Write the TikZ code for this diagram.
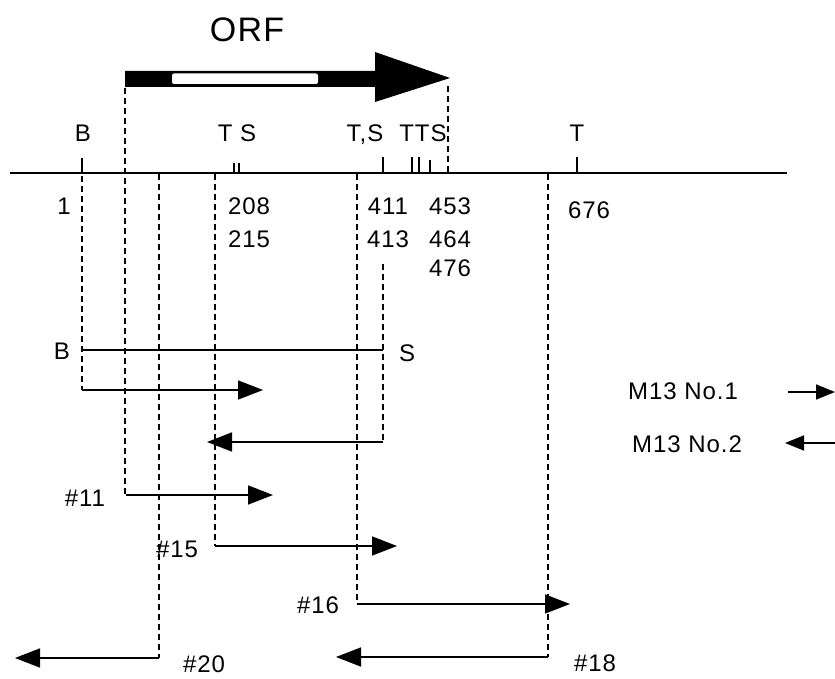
\documentclass[tikz,border=0pt]{standalone}
\usepackage{fontspec}
\setmainfont{Liberation Sans}[LetterSpace=4]
\usetikzlibrary{arrows.meta}
\begin{document}
\begin{tikzpicture}[x=1pt,y=-1pt,
  lbl/.style={inner sep=0pt, font=\fontsize{24}{26}\selectfont, text height=17pt, text depth=0pt},
  guide/.style={line width=1.5pt, dash pattern=on 6pt off 4pt},
  frag/.style={line width=1.6pt, -{Triangle[length=25pt,width=19pt]}},
  legendarrow/.style={line width=1.6pt, -{Triangle[length=19pt,width=15pt]}},
  tickmark/.style={line width=1.4pt}]
\useasboundingbox (0,0) rectangle (835,679);

% ORF arrow
\node[inner sep=0pt, font=\fontsize{34}{36}\selectfont, text height=24pt, text depth=0pt] (orf) at (247,30) {ORF};
\fill[black] (125,71) -- (375,71) -- (375,52) -- (450,78) -- (375,102) -- (375,87) -- (125,87) -- cycle;
\fill[white, rounded corners=2pt] (172,73.5) rectangle (318,84);

% baseline
\coordinate (bl0) at (10,173);
\coordinate (bl1) at (787,173);
\draw[line width=2.6pt] (bl0) -- (bl1);

% site labels
\node[lbl] (lB) at (83,133) {B};
\node[lbl] (lTS) at (237,133) {T S};
\node[lbl] (lTS2) at (365,133) {T,S};
\node[lbl] (lTTS) at (423,133) {TTS};
\node[lbl] (lT) at (577,133) {T};

% ticks
\foreach \n/\x/\y in {a/82/158, b/234/163, c/239/163, d/383/157, e/412/157, f/419/157, g/430/160, h/577/157} {
  \coordinate (t\n0) at (\x,\y);
  \coordinate (t\n1) at (\x,173);
  \draw[tickmark] (t\n0) -- (t\n1);
}

% position numbers
\node[lbl] (n1) at (64,206) {1};
\node[lbl] (n208) at (249,206) {208};
\node[lbl] (n215) at (249,239) {215};
\node[lbl] (n411) at (388,206) {411};
\node[lbl] (n413) at (388,239) {413};
\node[lbl] (n453) at (450,206) {453};
\node[lbl] (n464) at (450,239) {464};
\node[lbl] (n476) at (450,268) {476};
\node[lbl] (n676) at (589,210) {676};

% dashed guides
\foreach \n/\x/\ya/\yb in {a/82/176/390, b/125/88/495, c/159/174/658, d/215/174/546, e/357/174/604, f/383/264/442, g/448/86/172, h/548/174/657} {
  \coordinate (g\n0) at (\x,\ya);
  \coordinate (g\n1) at (\x,\yb);
  \draw[guide] (g\n0) -- (g\n1);
}

% B-S fragment
\node[lbl] (fB) at (62,351) {B};
\node[lbl] (fS) at (407,353) {S};
\coordinate (bs0) at (82,350);
\coordinate (bs1) at (383,350);
\draw[line width=2.8pt] (bs0) -- (bs1);

% M13 subclones
\coordinate (a1s) at (82,390);  \coordinate (a1e) at (263,390);
\coordinate (a2s) at (383,442); \coordinate (a2e) at (207,442);
\draw[frag] (a1s) -- (a1e);
\draw[frag] (a2s) -- (a2e);

\node[lbl] (c11) at (85,498) {\#11};
\coordinate (c11s) at (126,495); \coordinate (c11e) at (273,495);
\draw[frag] (c11s) -- (c11e);

\node[lbl] (c15) at (177,549) {\#15};
\coordinate (c15s) at (215,546); \coordinate (c15e) at (397,546);
\draw[frag] (c15s) -- (c15e);

\node[lbl] (c16) at (318,605) {\#16};
\coordinate (c16s) at (357,604); \coordinate (c16e) at (570,604);
\draw[frag] (c16s) -- (c16e);

\node[lbl] (c20) at (204,664) {\#20};
\coordinate (c20s) at (159,658); \coordinate (c20e) at (15,658);
\draw[frag] (c20s) -- (c20e);

\node[lbl] (c18) at (595,663) {\#18};
\coordinate (c18s) at (548,657); \coordinate (c18e) at (336,657);
\draw[frag] (c18s) -- (c18e);

% legend
\node[lbl] (m1) at (683,391) {M13 No.1};
\node[lbl] (m2) at (687,444) {M13 No.2};
\coordinate (l1s) at (788,392); \coordinate (l1e) at (835,392);
\coordinate (l2s) at (835,443); \coordinate (l2e) at (785,443);
\draw[legendarrow] (l1s) -- (l1e);
\draw[legendarrow] (l2s) -- (l2e);
\end{tikzpicture}
\end{document}
